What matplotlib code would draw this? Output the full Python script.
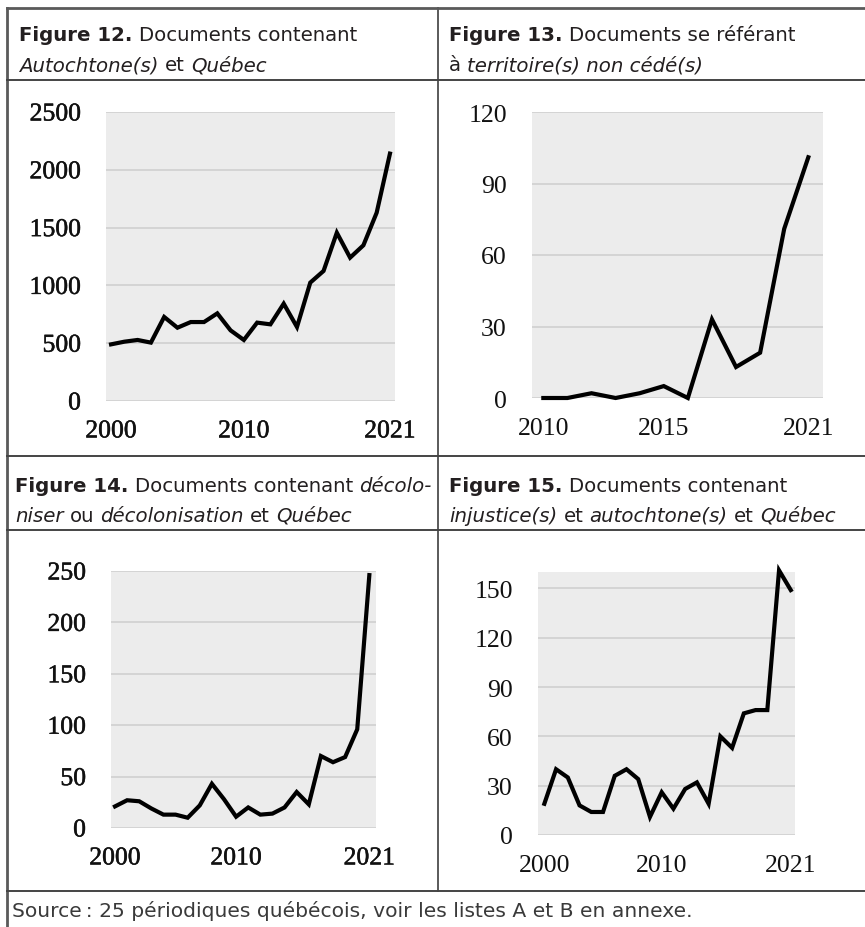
import matplotlib
matplotlib.use("Agg")
import matplotlib.pyplot as plt
import matplotlib.patheffects as pe

plt.rcParams["font.family"] = ["Liberation Serif", "DejaVu Serif"]

# data
years_full = list(range(2000, 2022))
years_recent = list(range(2010, 2022))

autochtone_quebec = [490, 513, 528, 505, 727, 634, 683, 683, 758, 611, 528,
                     678, 663, 842, 640, 1024, 1125, 1456, 1240, 1347, 1629, 2140]
territoire_non_cede = [0, 0, 2, 0, 2, 5, 0, 33, 13, 19, 71, 101]
decoloniser_quebec = [21, 27, 26, 19, 13, 13, 10, 22, 43, 28, 11,
                      20, 13, 14, 20, 35, 23, 70, 64, 69, 96, 246]
injustice_quebec = [19, 40, 35, 18, 14, 14, 36, 40, 34, 11, 26,
                    16, 28, 32, 19, 60, 53, 74, 76, 76, 161, 149]

yticks_12 = [0, 500, 1000, 1500, 2000, 2500]
yticks_13 = [0, 30, 60, 90, 120]
yticks_14 = [0, 50, 100, 150, 200, 250]
yticks_15 = [0, 30, 60, 90, 120, 150]
xticks_full = [2000, 2010, 2021]
xticks_recent = [2010, 2015, 2021]

W, H = 865, 928
fig = plt.figure(figsize=(W / 100, H / 100), dpi=100)

# background axes in pixel coordinates for the table and captions
bg = fig.add_axes([0, 0, 1, 1])
bg.set_xlim(0, W)
bg.set_ylim(H, 0)
bg.axis("off")

border = "#5a5a5a"
bg.plot([7, W], [9, 9], color=border, lw=2.0)
bg.plot([7, 7], [9, H], color=border, lw=2.0)
bg.plot([438, 438], [9, 892], color=border, lw=1.4)
for y in [81, 457, 531, 892]:
    bg.plot([7, W], [y, y], color="#444444", lw=1.4)

TITLE_FONT = ["DejaVu Sans"]
TITLE_SIZE = 14.2
renderer = fig.canvas.get_renderer()


def text_width(s, style, weight, size):
    t = bg.text(0, 0, s, fontsize=size, fontstyle=style, fontweight=weight,
                family=TITLE_FONT)
    w = t.get_window_extent(renderer=renderer).width
    t.remove()
    return w


def rich_line(x, y, parts, size=TITLE_SIZE, color="#231f20"):
    for s, style, weight in parts:
        space = text_width("a a", style, weight, size) - text_width("aa", style, weight, size)
        lead = len(s) - len(s.lstrip(" "))
        trail = len(s) - len(s.rstrip(" "))
        x += lead * space
        core = s.strip(" ")
        if core:
            t = bg.text(x, y, core, fontsize=size, fontstyle=style, fontweight=weight,
                        family=TITLE_FONT, color=color, va="baseline", ha="left")
            x += t.get_window_extent(renderer=renderer).width
        x += trail * space


N, I, B = "normal", "italic", "bold"
rich_line(19, 41, [("Figure 12.", N, B), (" Documents contenant", N, N)])
rich_line(19, 71, [("Autochtone(s)", I, N), (" et ", N, N), ("Québec", I, N)])
rich_line(449, 41, [("Figure 13.", N, B), (" Documents se référant", N, N)])
rich_line(449, 71, [("à ", N, N), ("territoire(s) non cédé(s)", I, N)])
rich_line(15, 492, [("Figure 14.", N, B), (" Documents contenant ", N, N), ("décolo-", I, N)])
rich_line(15, 522, [("niser", I, N), (" ou ", N, N), ("décolonisation", I, N),
                    (" et ", N, N), ("Québec", I, N)])
rich_line(449, 492, [("Figure 15.", N, B), (" Documents contenant", N, N)])
rich_line(449, 522, [("injustice(s)", I, N), (" et ", N, N), ("autochtone(s)", I, N),
                     (" et ", N, N), ("Québec", I, N)])
rich_line(12, 917, [("Source\u2009: 25 périodiques québécois, voir les listes A et B en annexe.", N, N)],
          size=14.6, color="#3a3a3a")


def panel(box, xlim, ylim, x, y, yticks, xticks, heavy):
    x0, y0, x1, y1 = box
    ax = fig.add_axes([x0 / W, 1 - y1 / H, (x1 - x0) / W, (y1 - y0) / H])
    ax.set_facecolor("#ececec")
    for s in ax.spines.values():
        s.set_visible(False)
    ax.set_xlim(*xlim)
    ax.set_ylim(*ylim)
    ax.set_yticks(yticks)
    ax.set_xticks(xticks)
    ax.grid(axis="y", color="#d2d2d2", lw=1.3)
    ax.set_axisbelow(True)
    ax.plot(x, y, color="black", lw=3.0, solid_joinstyle="miter", clip_on=False)
    ax.tick_params(length=0, labelsize=18.5, labelcolor="#111111")
    ax.tick_params(axis="y", pad=18)
    ax.tick_params(axis="x", pad=14)
    if heavy:
        for lab in ax.get_xticklabels() + ax.get_yticklabels():
            lab.set_path_effects([pe.withStroke(linewidth=0.35, foreground="#111111")])
    return ax


panel((106, 113, 395, 402), (1999.62, 2021.38), (0, 2500),
      years_full, autochtone_quebec, yticks_12, xticks_full, True)
panel((532, 113, 823, 399), (2009.53, 2021.61), (0, 120),
      years_recent, territoire_non_cede, yticks_13, xticks_recent, False)
panel((111, 572, 376, 829), (1999.67, 2021.55), (0, 250),
      years_full, decoloniser_quebec, yticks_14, xticks_full, True)
panel((538, 573, 795, 836), (1999.46, 2021.36), (0, 160),
      years_full, injustice_quebec, yticks_15, xticks_full, False)

fig.savefig("out.png", dpi=100)
